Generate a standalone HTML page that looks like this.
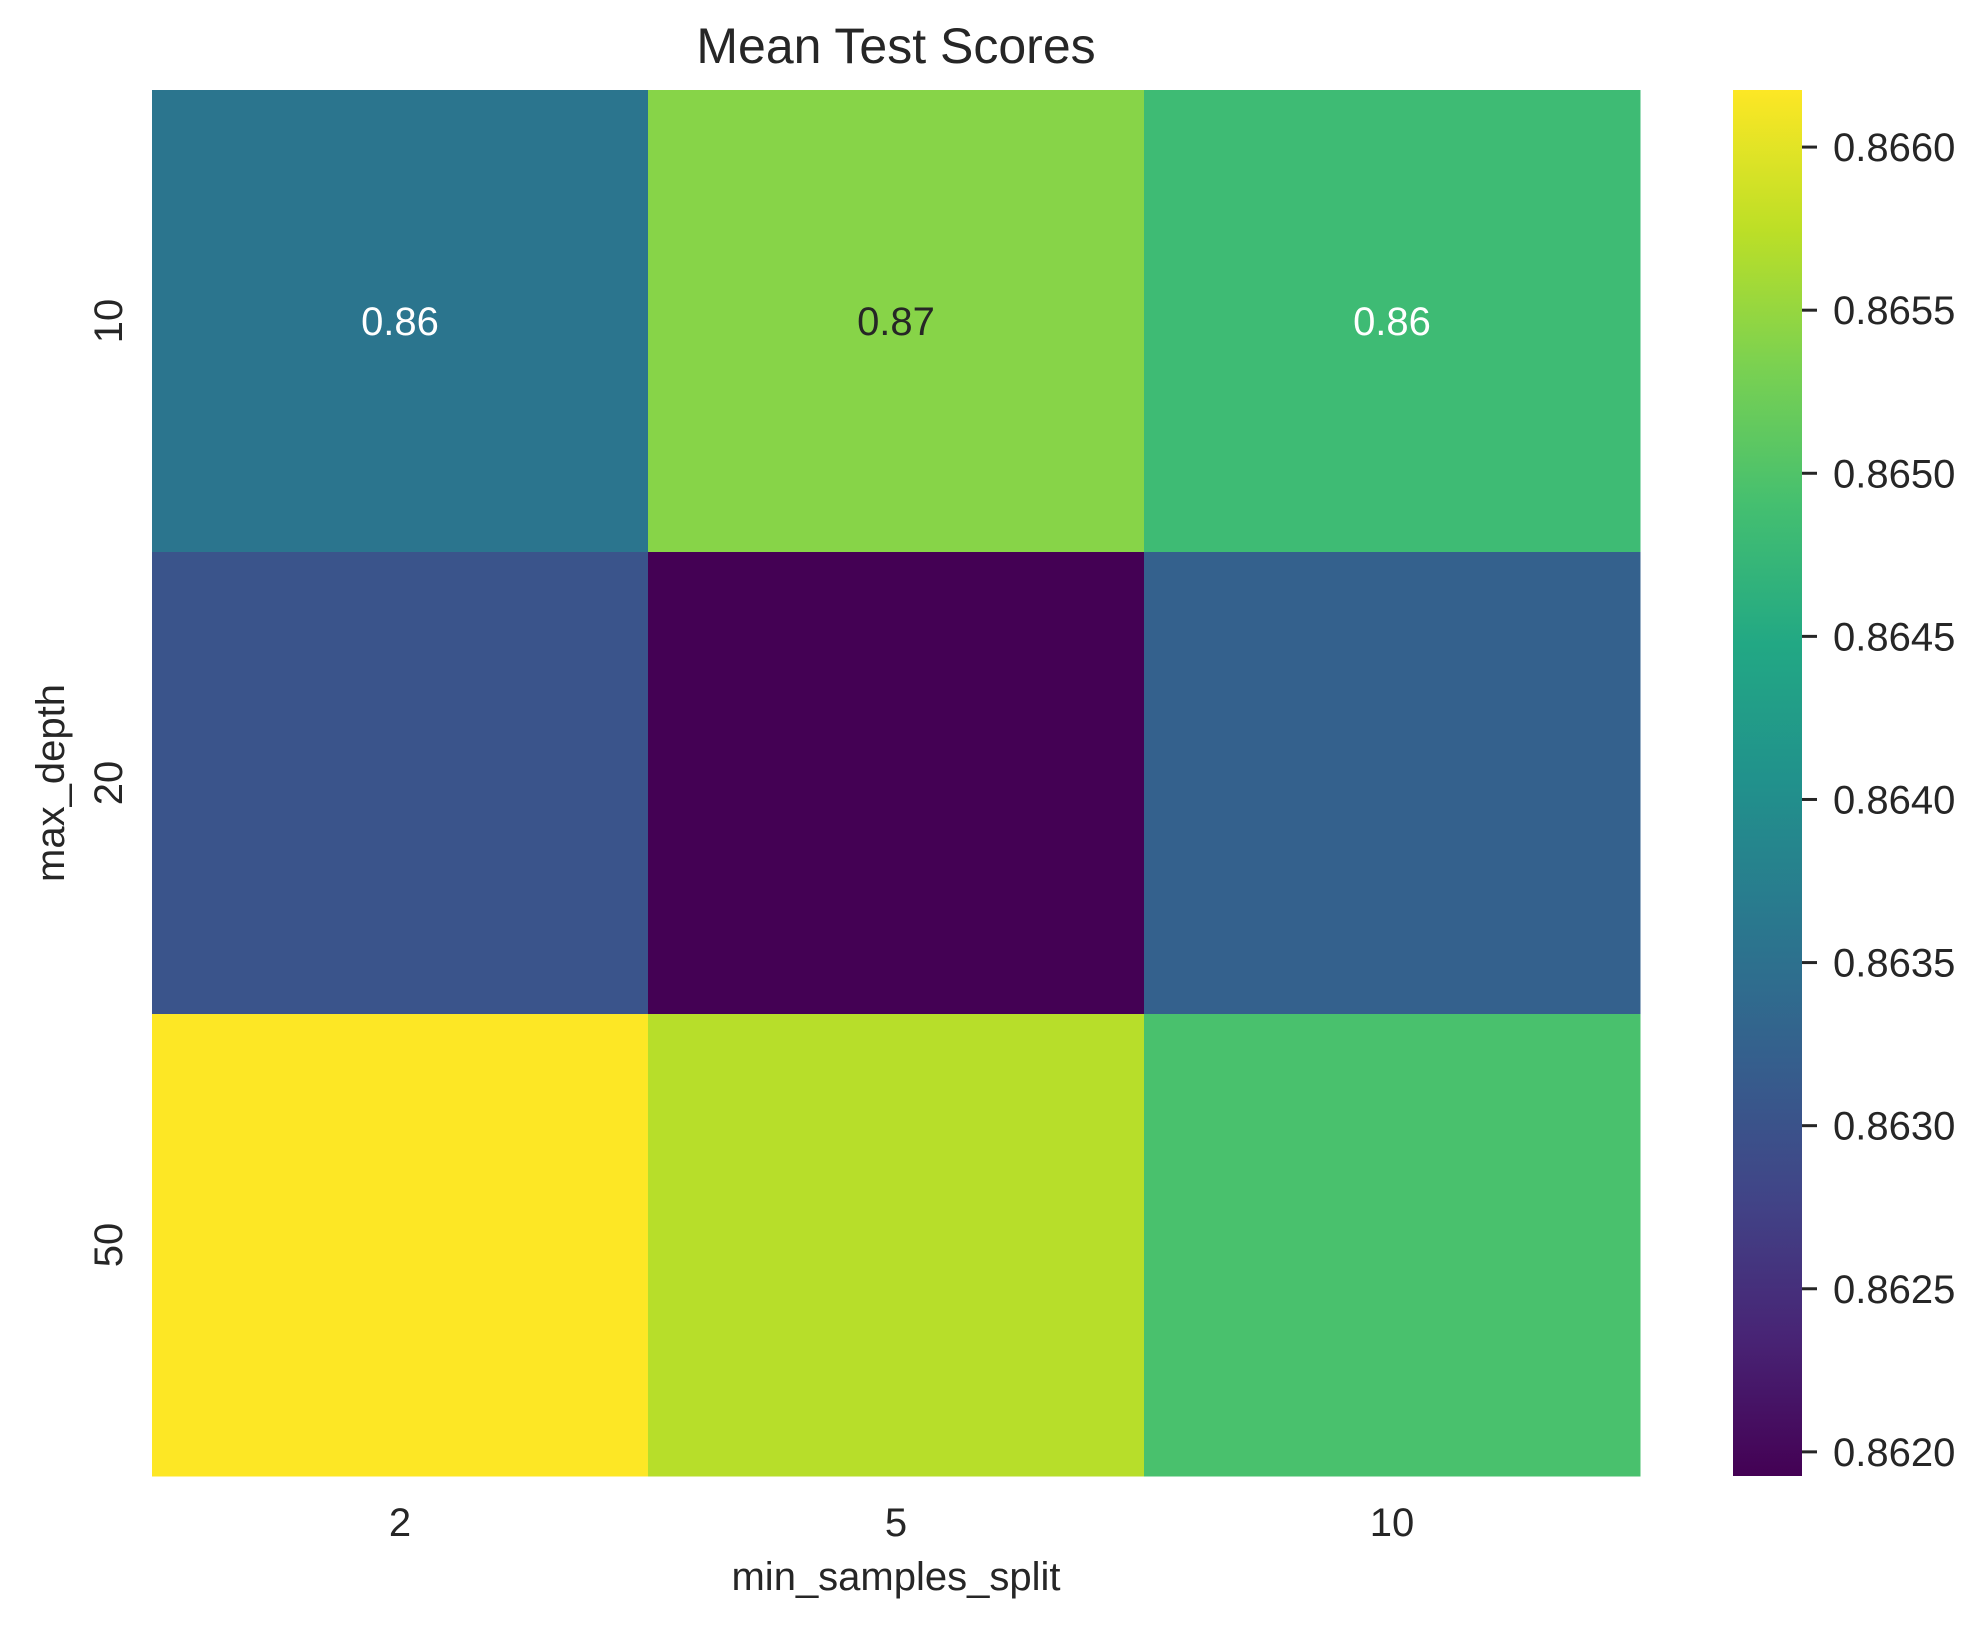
<!DOCTYPE html>
<html><head><meta charset="utf-8"><style>
html,body{margin:0;padding:0;background:#fff;}
svg{display:block;font-family:"Liberation Sans",Arial,sans-serif;}
</style></head><body>
<svg id="chart" width="1988" height="1628" viewBox="0 0 1988 1628" xmlns="http://www.w3.org/2000/svg">
<defs><linearGradient id="vgrad" x1="0" y1="1" x2="0" y2="0"></linearGradient></defs>
<text x="896" y="63" font-size="50" fill="#262626" text-anchor="middle">Mean Test Scores</text>
<g id="cells"></g>
<g id="axes"></g>
<g id="cbar"></g>
</svg>
<script>
const xCategories = ["2", "5", "10"];
const yCategories = ["10", "20", "50"];
const row10 = [0.86358, 0.86541, 0.86482];
const row20 = [0.86303, 0.861926, 0.86324];
const row50 = [0.866175, 0.86571, 0.86494];
const cbarTicks = [0.8620, 0.8625, 0.8630, 0.8635, 0.8640, 0.8645, 0.8650, 0.8655, 0.8660];
const values = [row10, row20, row50];

const NS = "http://www.w3.org/2000/svg";
const viridis = ["#440154","#482475","#414487","#355f8d","#2a788e","#21918c","#22a884","#44bf70","#7ad151","#bddf26","#fde725"];
function hex(c){return [parseInt(c.substr(1,2),16),parseInt(c.substr(3,2),16),parseInt(c.substr(5,2),16)];}
function cmap(t){t=Math.max(0,Math.min(1,t));const p=t*10,i=Math.min(9,Math.floor(p)),f=p-i;const a=hex(viridis[i]),b=hex(viridis[i+1]);
return "rgb("+a.map((v,k)=>Math.round(v+(b[k]-v)*f)).join(",")+")";}
const all=values.flat();
const vmin=Math.min(...all), vmax=Math.max(...all);
const L=152,R=1640,T=90,B=1476;
const cw=(R-L)/xCategories.length, ch=(B-T)/yCategories.length;
const xPos=i=>L+i*cw, yPos=j=>T+j*ch;
function mk(tag,attrs,parent){const e=document.createElementNS(NS,tag);for(const k in attrs)e.setAttribute(k,attrs[k]);parent.appendChild(e);return e;}
const cells=document.getElementById("cells");
values.forEach((row,j)=>row.forEach((v,i)=>{
  const t=(v-vmin)/(vmax-vmin);
  const r=mk("rect",{x:xPos(i),y:yPos(j),width:cw+0.5,height:ch+0.5,fill:cmap(t)},cells);
  
  
  if(j===0){
    const tx=mk("text",{x:xPos(i)+cw/2,y:yPos(j)+ch/2+14,"font-size":40,"text-anchor":"middle",fill:t>0.75?"#262626":"#ffffff"},cells);
    tx.textContent=v.toFixed(2);
    
    
  }
}));
const axes=document.getElementById("axes");
xCategories.forEach((c,i)=>{
  const t=mk("text",{x:xPos(i)+cw/2,y:1536,"font-size":40,"text-anchor":"middle",fill:"#262626"},axes);
  t.textContent=c;
  
  
});
yCategories.forEach((c,j)=>{
  const cy=yPos(j)+ch/2;
  const t=mk("text",{x:122,y:cy,"font-size":40,"text-anchor":"middle",fill:"#262626",transform:"rotate(-90 122 "+cy+")"},axes);
  t.textContent=c;
  
  
});
const xl=mk("text",{x:896,y:1590,"font-size":40,"text-anchor":"middle",fill:"#262626"},axes);
xl.textContent="min_samples_split";


const yl=mk("text",{x:64,y:(T+B)/2,"font-size":40,"text-anchor":"middle",fill:"#262626",transform:"rotate(-90 64 "+(T+B)/2+")"},axes);
yl.textContent="max_depth";


const g=document.getElementById("vgrad");
viridis.forEach((c,k)=>mk("stop",{offset:(k*10)+"%","stop-color":c},g));
const cb=document.getElementById("cbar");
const CX=1733,CW=69;
const cbRect=mk("rect",{x:CX,y:T,width:CW,height:B-T,fill:"url(#vgrad)"},cb);


const cy=v=>B-(v-vmin)/(vmax-vmin)*(B-T);
cbarTicks.forEach(v=>{
  const y=cy(v);
  const ln=mk("line",{x1:CX+CW,x2:CX+CW+15,y1:y,y2:y,stroke:"#262626","stroke-width":3},cb);
  
  
  const t=mk("text",{x:1833,y:y+14,"font-size":40,fill:"#262626"},cb);
  t.textContent=v.toFixed(4);
  
  
});
</script>
</body></html>
